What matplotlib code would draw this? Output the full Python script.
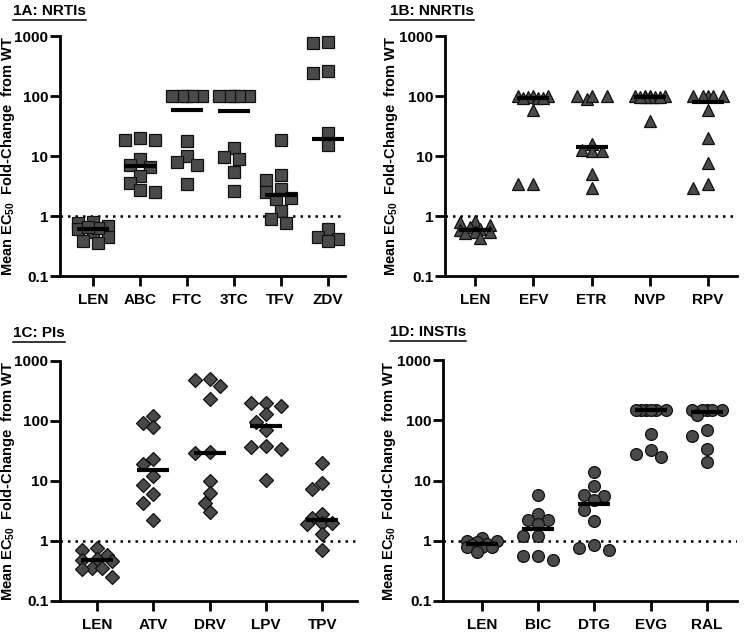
#!/usr/bin/env python
# Fold-change in EC50 vs WT for LEN and comparator drugs, 4 panels (GraphPad-style scatter with medians).
import numpy as np
import matplotlib.pyplot as plt
from matplotlib.lines import Line2D

plt.rcParams['font.family'] = ['Liberation Sans', 'DejaVu Sans']
plt.rcParams['font.weight'] = 'bold'
plt.rcParams['mathtext.fontset'] = 'custom'
plt.rcParams['mathtext.rm'] = 'Liberation Sans:bold'
plt.rcParams['mathtext.it'] = 'Liberation Sans:bold'
plt.rcParams['mathtext.bf'] = 'Liberation Sans:bold'

# ---- data ----
nrti_drugs = ['LEN', 'ABC', 'FTC', '3TC', 'TFV', 'ZDV']
nrti_vals = [
    [0.75, 0.68, 0.80, 0.55, 0.60, 0.45, 0.36, 0.38, 0.62, 0.65],
    [18.5, 20, 18.5, 9, 6.5, 7, 4.7, 3.5, 2.5, 2.7],
    [100, 100, 100, 100, 100, 18, 10, 8, 7, 3.4],
    [100, 100, 100, 100, 100, 13.5, 9, 9.7, 5.5, 2.6],
    [18.5, 4.8, 4.0, 2.8, 2.5, 2.0, 1.9, 1.2, 0.88, 0.77],
    [800, 750, 260, 240, 24, 15, 0.6, 0.45, 0.41, 0.38],
]
nnrti_drugs = ['LEN', 'EFV', 'ETR', 'NVP', 'RPV']
nnrti_vals = [
    [0.8, 0.82, 0.72, 0.65, 0.6, 0.58, 0.55, 0.55, 0.53, 0.43],
    [100, 100, 100, 97, 93, 93, 93, 58, 3.4, 3.4],
    [90, 100, 100, 100, 16, 12.5, 12, 12, 5, 2.9],
    [100, 100, 100, 100, 97, 95, 95, 95, 95, 38],
    [100, 100, 100, 100, 100, 58, 20, 7.5, 3.4, 2.9],
]
pi_drugs = ['LEN', 'ATV', 'DRV', 'LPV', 'TPV']
pi_vals = [
    [0.75, 0.72, 0.58, 0.5, 0.48, 0.47, 0.36, 0.35, 0.34, 0.25],
    [120, 92, 80, 23, 19, 12, 8.7, 6, 4.3, 2.2],
    [510, 490, 380, 230, 30, 29, 10, 6.2, 4.3, 3.0],
    [200, 200, 180, 130, 95, 70, 38, 37, 34, 10.5],
    [20, 9.3, 7.3, 2.8, 2.4, 2.0, 2.0, 1.9, 1.3, 0.7],
]
insti_drugs = ['LEN', 'BIC', 'DTG', 'EVG', 'RAL']
insti_vals = [
    [1.1, 1.0, 1.0, 0.95, 0.9, 0.85, 0.8, 0.8, 0.8, 0.65],
    [5.8, 2.8, 2.2, 2.2, 1.9, 1.2, 1.2, 0.55, 0.55, 0.48],
    [14, 8.2, 5.8, 5.5, 4.8, 3.2, 2.1, 0.85, 0.75, 0.7],
    [150, 150, 150, 150, 150, 150, 60, 32, 28, 25],
    [150, 150, 150, 150, 150, 120, 68, 55, 33, 20],
]

W, H = 750, 632
fig = plt.figure(figsize=(W / 100, H / 100), dpi=100)
FS = 11


def px_axes(l, t, r, b):
    return fig.add_axes([l / W, 1 - b / H, (r - l) / W, (b - t) / H])


def swarm(ax, xi, vals, ms_px, step=5.0, halfw=17.0):
    # greedy beeswarm in pixel space, returns x positions in data units
    x0 = ax.transData.transform((xi, 1))[0]
    ys = np.array([ax.transData.transform((xi, v))[1] for v in vals])
    cands = [0.0]
    k = 1
    while k * step <= halfw:
        cands += [-k * step, k * step]
        k += 1
    placed = []
    xs = np.zeros(len(vals))
    min_d = 1.0 * ms_px
    for i in np.argsort(vals)[::-1]:
        best, best_d = None, -1
        for c in cands:
            d = min([np.hypot(c - qx, ys[i] - qy) for qx, qy in placed], default=1e9)
            if d >= min_d:
                best = c
                break
            if d > best_d:
                best, best_d = c, d
        placed.append((best, ys[i]))
        xs[i] = best
    inv = ax.transData.inverted()
    return np.array([inv.transform((x0 + dx, ys[j]))[0] for j, dx in enumerate(xs)])


def panel(box, xlim, drugs, vals, marker, ms, title, title_xy, ylab_x):
    ax = px_axes(*box)
    ax.set_yscale('log')
    ax.set_ylim(0.1, 1000)
    ax.set_xlim(*xlim)
    ax.set_yticks([0.1, 1, 10, 100, 1000])
    ax.set_yticklabels(['0.1', '1', '10', '100', '1000'], fontweight='bold', fontsize=FS)
    ax.minorticks_off()
    ax.set_xticks(range(len(drugs)))
    ax.set_xticklabels(drugs, fontweight='bold', fontsize=FS)
    for s in ['top', 'right']:
        ax.spines[s].set_visible(False)
    for s in ['left', 'bottom']:
        ax.spines[s].set_linewidth(2)
    ax.tick_params(axis='y', length=7, width=2, pad=1.5)
    ax.tick_params(axis='x', length=7, width=2, pad=5)
    ax.axhline(1, color='k', lw=1.8, ls=(0, (1, 2)), zorder=1)

    ms_px = ms * 100 / 72
    hw = ax.transData.inverted().transform((16, 0))[0] - ax.transData.inverted().transform((0, 0))[0]
    for i, v in enumerate(vals):
        xs = swarm(ax, i, v, ms_px)
        ax.plot(xs, v, ls='none', marker=marker, ms=ms, mfc='#4a4a4a',
                mec='#111111', mew=0.9, zorder=2, clip_on=False)
        med = np.median(v)
        ax.plot([i - hw, i + hw], [med, med], color='k', lw=3,
                solid_capstyle='butt', zorder=3)

    ax.set_ylabel(r'Mean EC$_{50}$  Fold-Change  from WT', fontsize=10.5, fontweight='bold')
    ax.yaxis.set_label_coords((ylab_x - box[0]) / (box[2] - box[0]), 0.5)

    t = fig.text(title_xy[0] / W, 1 - title_xy[1] / H, title, fontsize=FS,
                 fontweight='bold', ha='left', va='baseline')
    r = fig.canvas.get_renderer()
    bb = t.get_window_extent(r)
    fig.add_artist(Line2D([bb.x0 / W, bb.x1 / W], [(bb.y0 - 2) / H, (bb.y0 - 2) / H],
                          color='k', lw=1.1, transform=fig.transFigure))
    return ax


panel((60, 36, 345, 276), (-0.7, 5.37), nrti_drugs, nrti_vals, 's', 8,
      '1A: NRTIs', (13, 15), 17)
panel((445, 36, 737, 276), (-0.52, 4.5), nnrti_drugs, nnrti_vals, '^', 8.5,
      '1B: NNRTIs', (390, 15), 400)
panel((60, 361, 357, 601), (-0.66, 4.62), pi_drugs, pi_vals, 'D', 7.5,
      '1C: PIs', (13, 337), 17)
panel((443, 360, 737, 601), (-0.7, 4.54), insti_drugs, insti_vals, 'o', 8.5,
      '1D: INSTIs', (390, 336), 398)

fig.savefig('out.png', dpi=100)
